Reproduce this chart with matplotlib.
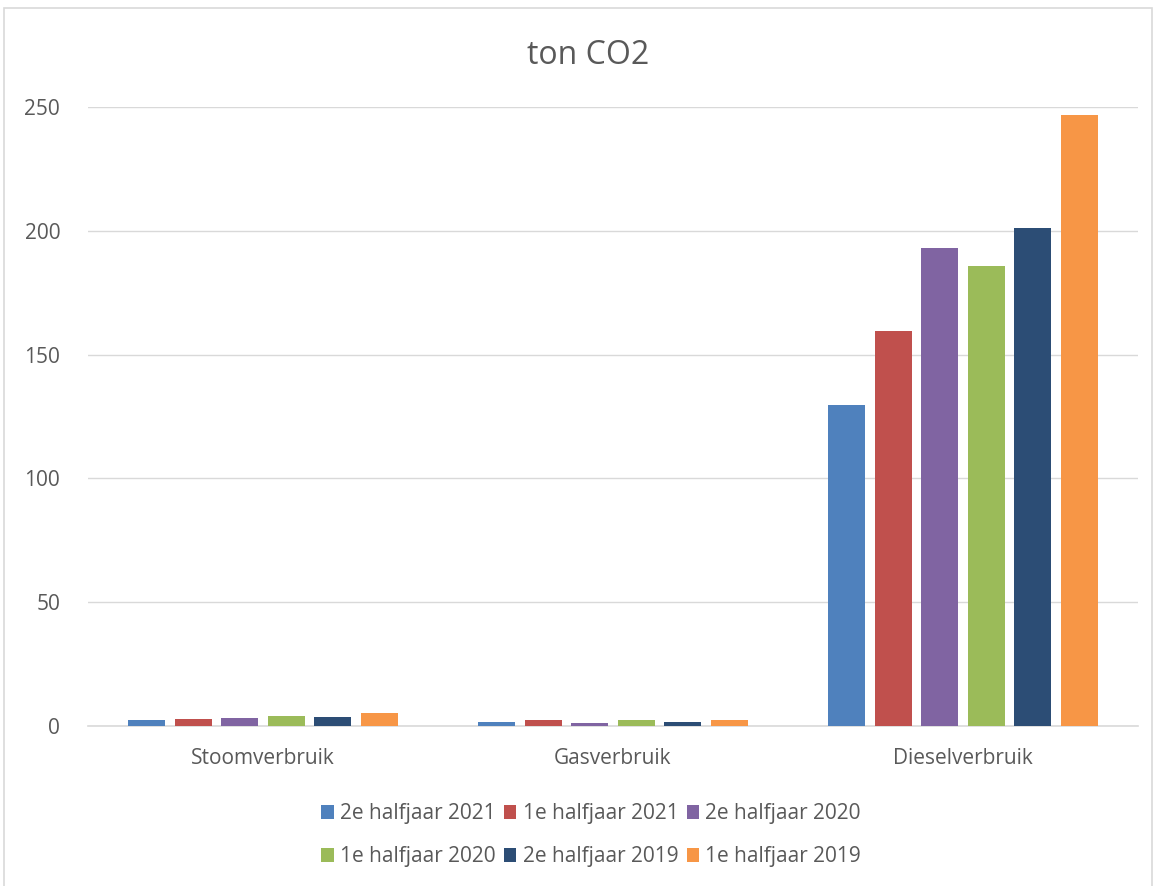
import numpy as np
import matplotlib
matplotlib.use("Agg")
import matplotlib.pyplot as plt
from matplotlib.patches import Rectangle, Patch

categories = ["Stoomverbruik", "Gasverbruik", "Dieselverbruik"]
series = ["2e halfjaar 2021", "1e halfjaar 2021", "2e halfjaar 2020",
          "1e halfjaar 2020", "2e halfjaar 2019", "1e halfjaar 2019"]
values_2e_2021 = [2.4, 1.6, 129.6]
values_1e_2021 = [2.8, 2.4, 159.5]
values_2e_2020 = [3.4, 1.3, 193.0]
values_1e_2020 = [4.0, 2.4, 185.8]
values_2e_2019 = [3.6, 1.6, 201.1]
values_1e_2019 = [5.1, 2.4, 246.8]
yticks = [0, 50, 100, 150, 200, 250]

colors = ["#4f81bd", "#c0504d", "#8064a2", "#9bbb59", "#2c4d75", "#f79646"]
all_values = [values_2e_2021, values_1e_2021, values_2e_2020,
              values_1e_2020, values_2e_2019, values_1e_2019]

plt.rcParams["font.family"] = ["Open Sans", "DejaVu Sans"]
text_color = "#595959"

fig = plt.figure(figsize=(11.57, 8.86), dpi=100)
ax = fig.add_axes([0.076, 0.1806, 0.9076, 0.6985])

x = np.arange(len(categories))
step = 0.133
width = 0.106
for i, (vals, col, name) in enumerate(zip(all_values, colors, series)):
    ax.bar(x + (i - 2.5) * step, vals, width, color=col, label=name, zorder=3)

ax.set_xlim(-0.5, 2.5)
ax.set_ylim(0, 250)
ax.set_yticks(yticks)
ax.set_xticks(x)
ax.set_xticklabels(categories)
ax.tick_params(axis="both", length=0, labelsize=15, colors=text_color)
ax.tick_params(axis="y", pad=20)
ax.tick_params(axis="x", pad=16)
ax.grid(axis="y", color="#d9d9d9", linewidth=1, zorder=0)
for s in ["top", "right", "left"]:
    ax.spines[s].set_visible(False)
ax.spines["bottom"].set_color("#d9d9d9")
ax.spines["bottom"].set_linewidth(1.2)

fig.text(0.508, 0.937, "ton CO2", ha="center", va="center",
         fontsize=23, color=text_color)

handles = [Patch(facecolor=c, label=n) for c, n in zip(colors, series)]
order = [0, 3, 1, 4, 2, 5]
fig.legend([handles[k] for k in order], [series[k] for k in order],
           ncol=3, loc="center", bbox_to_anchor=(0.511, 0.0572),
           frameon=False, fontsize=15, labelcolor=text_color,
           handlelength=0.6, handleheight=0.6, handletextpad=0.3,
           columnspacing=0.4, labelspacing=1.05)

fig.patches.append(Rectangle((4 / 1157, -0.01), 1148 / 1157, 1 - 8 / 886 + 0.01,
                             transform=fig.transFigure, fill=False,
                             edgecolor="#d9d9d9", linewidth=1.2))

fig.savefig("out.png", dpi=100)
